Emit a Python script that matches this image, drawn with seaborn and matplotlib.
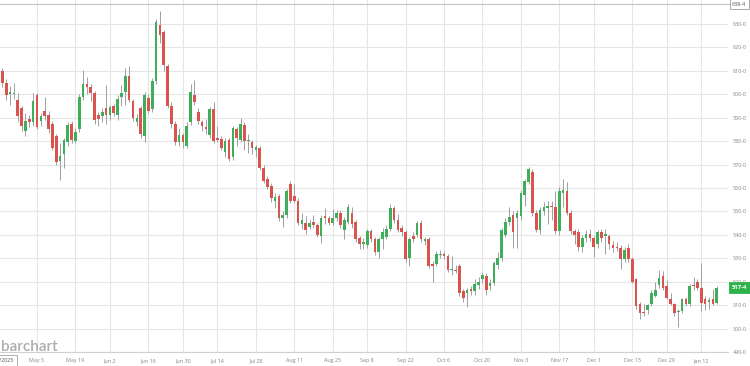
import numpy as np
import pandas as pd
import matplotlib
matplotlib.use("Agg")
import matplotlib.pyplot as plt
import seaborn as sns

# ---------------- data ----------------
holidays = ["2025-05-26", "2025-06-19", "2025-07-04", "2025-09-01",
            "2025-11-27", "2025-12-25", "2026-01-01"]
first_day = "2025-04-21"
last_day = "2026-01-16"

opens = [
    610, 605, 600, 600, 597.5, 594, 584.5, 589.5, 588, 599.5,
    588.5, 593, 591, 587.5, 582, 571.5, 574.5, 579.5, 587.5, 580,
    585, 599, 604.5, 603, 600.5, 591, 590.5, 594, 591, 595,
    591, 599, 601, 608, 597, 588, 594, 582, 598.5, 593.5,
    605.5, 629.5, 626.5, 612, 595, 587.5, 579.5, 582.5, 578, 588,
    599.5, 592.5, 588, 586, 582.5, 593.5, 581.5, 581, 575.5, 580.5,
    573, 585, 580.5, 587, 580, 579.5, 576, 577, 568.5, 564,
    561, 554.5, 556.5, 547, 548.5, 561.5, 556.5, 554.5, 544.5, 545,
    543.5, 545.5, 544, 539.5, 548, 547, 545, 547, 549.5, 542,
    545.5, 549.5, 545.5, 538.5, 536, 535.5, 541.5, 538, 532.5, 538,
    539, 542.5, 551.5, 546.5, 543, 541, 530, 539.5, 540, 545,
    537.5, 538, 527.5, 527.5, 531.5, 532, 531, 525, 525, 526.5,
    516, 515, 517, 516, 518.5, 521, 522.5, 518, 519.5, 527,
    530, 540, 545.5, 548.5, 547, 548, 557, 562.5, 567, 549.5,
    542, 550, 551.5, 552.5, 552, 541.5, 558, 558.5, 549.5, 541.5,
    541, 535, 538.5, 540.5, 538.5, 536, 541, 539.5, 539.5, 535.5,
    535, 534.5, 529.5, 534.5, 529.5, 521, 510.5, 507, 508, 510.5,
    514, 518.5, 522.5, 518, 512.5, 510.5, 507, 507.5, 512.5, 510.5,
    518.5, 520, 517.5, 512.5, 511.5, 512.5, 511,
]
highs = [
    611, 606.5, 603.5, 605, 600.5, 595, 592, 591, 600.5, 600.5,
    592, 599, 593, 588.5, 583, 579, 581.5, 588, 588.5, 585.5,
    600, 610.5, 607.5, 604.5, 601.5, 592.5, 594, 604, 595.5, 596,
    599.5, 604, 611, 612, 598, 591.5, 595, 601, 600, 607,
    632, 635.5, 627.5, 613, 596.5, 588.5, 585.5, 583.5, 588, 604.5,
    606, 594, 589, 589.5, 594.5, 596.5, 586.5, 582, 581.5, 581.5,
    586.5, 586, 590, 588, 583, 580.5, 578.5, 578, 570, 565,
    562, 558, 557.5, 550, 559.5, 563, 561.5, 555.5, 549.5, 548,
    546.5, 548.5, 545, 548.5, 551.5, 548, 551, 550.5, 550.5, 547.5,
    553, 552, 546.5, 539.5, 538.5, 542.5, 542.5, 539, 539, 543,
    544, 553, 552.5, 549, 544, 542, 539, 541, 546, 546.5,
    539, 539, 529, 533, 533.5, 533, 532, 531, 527, 527.5,
    517, 517.5, 518, 521, 522, 524, 523.5, 521, 529, 532.5,
    543, 547, 552, 550, 550.5, 559, 564, 569, 568, 550.5,
    552, 554, 554.5, 554.5, 558.5, 560.5, 564, 562.5, 550.5, 542.5,
    542.5, 540, 542, 542.5, 539.5, 542, 542.5, 542.5, 540.5, 537.5,
    537, 535.5, 535, 536, 530.5, 521.5, 511.5, 510.5, 510.5, 516.5,
    520, 525, 524.5, 520.5, 515, 511, 508.5, 513, 513.5, 519,
    522, 521, 528, 514, 513.5, 517, 518,
]
lows = [
    603, 597.5, 595.5, 598, 588.5, 584.5, 582, 586, 586.5, 585,
    586.5, 589, 583.5, 576, 570, 563.5, 568.5, 578, 579, 579,
    584, 597.5, 600, 597, 587.5, 586.5, 588, 587.5, 589, 590.5,
    589, 595, 595.5, 596.5, 588.5, 586.5, 581.5, 579.5, 592, 592.5,
    604.5, 622, 610, 594, 585.5, 578.5, 578, 577, 577, 587,
    595.5, 587.5, 584.5, 583, 581.5, 579, 579.5, 576, 573, 571.5,
    572, 578, 579.5, 576, 575, 574.5, 573, 567.5, 562, 559.5,
    554, 551.5, 546, 543.5, 547, 553.5, 553.5, 544, 542.5, 540.5,
    542.5, 543, 539, 536.5, 544.5, 544, 544, 546, 543, 538,
    544.5, 543, 537, 534, 534, 534.5, 537, 531.5, 530, 534,
    538, 541.5, 545, 541, 539.5, 528.5, 526.5, 537, 539, 537,
    535.5, 526, 520, 526.5, 530, 529.5, 524, 523, 523.5, 514,
    511.5, 509, 514.5, 514.5, 517, 519.5, 514.5, 516.5, 518.5, 525.5,
    529, 539, 544, 534.5, 534.5, 546.5, 552.5, 561.5, 548, 541,
    540.5, 548.5, 544.5, 546.5, 540.5, 540, 552, 548.5, 540.5, 536,
    533, 532.5, 537, 537.5, 530.5, 534.5, 537, 532, 534, 532.5,
    533, 525.5, 528.5, 528.5, 519.5, 508.5, 504, 505.5, 506, 509.5,
    513.5, 517.5, 516.5, 512.5, 510, 505.5, 500.5, 506.5, 509.5, 509.5,
    516.5, 516.5, 507.5, 508, 508.5, 510, 510.5,
]
closes = [
    605, 599.5, 601, 600.5, 590.5, 586.5, 588.5, 588, 597, 586,
    590.5, 590.5, 585, 577, 571, 573.5, 580.5, 587, 580.5, 584,
    599, 604.5, 603, 600.5, 589, 589.5, 592.5, 591, 594.5, 592,
    598, 600.5, 608, 597.5, 590, 590, 583, 599.5, 593, 605.5,
    631, 625.5, 612.5, 595, 587.5, 579.5, 582.5, 579.5, 586.5, 601,
    596.5, 588.5, 586.5, 585, 593.5, 580, 580.5, 577, 580, 572.5,
    585.5, 581.5, 587.5, 580, 580.5, 577, 577.5, 568.5, 563, 560.5,
    555.5, 556, 547, 548.5, 558.5, 554.5, 554.5, 545, 546.5, 542,
    545, 544, 540, 547, 547, 545, 547, 549.5, 544, 546.5,
    552, 544.5, 538, 536, 537, 541.5, 538, 532.5, 538, 541,
    542.5, 551.5, 546.5, 542, 541, 529.5, 538, 538, 545, 538,
    538, 526.5, 526.5, 532, 532, 531, 525, 525.5, 524.5, 515,
    513, 516.5, 516, 519, 520, 523, 516.5, 519.5, 528, 530,
    542, 545.5, 547.5, 541, 549.5, 558, 563, 568, 549.5, 542,
    550.5, 552, 552.5, 552, 541.5, 558.5, 559, 549.5, 541.5, 540,
    535, 538.5, 540.5, 538.5, 535, 541, 538.5, 540.5, 536, 534.5,
    534.5, 529.5, 533.5, 529.5, 520, 509.5, 506.5, 506.5, 510, 515,
    516.5, 521.5, 517.5, 513, 510.5, 506.5, 507.5, 512.5, 510.5, 518,
    518, 517.5, 511, 510.5, 512, 510.5, 517.5,
]

tick_dates = ["2025-05-05", "2025-05-19", "2025-06-02", "2025-06-16",
              "2025-06-30", "2025-07-14", "2025-07-28", "2025-08-11",
              "2025-08-25", "2025-09-08", "2025-09-22", "2025-10-06",
              "2025-10-20", "2025-11-03", "2025-11-17", "2025-12-01",
              "2025-12-15", "2025-12-29", "2026-01-12"]
tick_labels = ["May 5", "May 19", "Jun 2", "Jun 16", "Jun 30", "Jul 14",
               "Jul 28", "Aug 11", "Aug 25", "Sep 8", "Sep 22", "Oct 6",
               "Oct 20", "Nov 3", "Nov 17", "Dec 1", "Dec 15", "Dec 29",
               "Jan 12"]
price_ticks = list(range(490, 640, 10))
period_high = 638.5
last_price = 517.5
start_label = "4/21/2025"

# ---------------- build frame ----------------
days = pd.bdate_range(first_day, last_day, freq="C", holidays=holidays)
dates = days[1:1 + len(closes)]
df = pd.DataFrame({"date": dates, "open": opens, "high": highs,
                   "low": lows, "close": closes})
df["idx"] = [days.get_loc(d) for d in df["date"]]
df["up"] = df["close"] >= df["open"]
df["body_lo"] = df[["open", "close"]].min(axis=1)
df["body_h"] = (df["close"] - df["open"]).abs().clip(lower=0.45)

def price_fmt(v):
    whole = int(np.floor(v))
    eighths = int(round((v - whole) * 8))
    return f"{whole}-{eighths}"

# ---------------- style ----------------
sns.set_theme(style="white")
plt.rcParams["font.family"] = ["Open Sans", "DejaVu Sans"]

W, H = 750, 366
fig = plt.figure(figsize=(W / 100, H / 100), dpi=100)
ax_bottom_px = 352.4
ax_right_px = 728
ax = fig.add_axes([0, (H - ax_bottom_px) / H, ax_right_px / W, ax_bottom_px / H])

green = "#3fae5a"
red = "#d9534f"
wick = "#a0a0a0"
grid_c = "#e6e6e6"

# wicks
ax.vlines(df["idx"], df["low"], df["high"], color=wick, linewidth=0.7, zorder=2)
# bodies
colors = np.where(df["up"], green, red)
ax.bar(df["idx"], df["body_h"], bottom=df["body_lo"], width=0.68,
       color=colors, linewidth=0, zorder=3)

px_per_day = 3.84
x0_px = -1.4
ax.set_xlim(-x0_px / px_per_day, (ax_right_px - x0_px) / px_per_day)
ax.set_ylim(490 - 0.2, 630 + 24 / 2.346)

# grid
tick_pos = [days.get_loc(pd.Timestamp(d)) for d in tick_dates]
ax.set_xticks(tick_pos)
ax.set_xticklabels(tick_labels)
ax.set_yticks(price_ticks)
ax.set_yticklabels([price_fmt(v) for v in price_ticks])
ax.yaxis.tick_right()
ax.grid(True, color=grid_c, linewidth=0.8, zorder=0)
ax.set_axisbelow(True)
ax.tick_params(axis="both", length=0, labelsize=3.9, labelcolor="#858585")
ax.tick_params(axis="x", pad=4.2)
ax.tick_params(axis="y", pad=3.2)
for s in ["top", "left", "right"]:
    ax.spines[s].set_visible(False)
ax.spines["bottom"].set_color("#d0d0d0")
ax.spines["bottom"].set_linewidth(0.8)

# period high line & label
ax.axhline(period_high, xmin=0, xmax=W / ax_right_px, color="#c4c4c4",
           linewidth=0.8, clip_on=False, zorder=1)
ax.text(1.0 + 4 / ax_right_px, period_high, price_fmt(period_high),
        transform=ax.get_yaxis_transform(), fontsize=3.9, color="#555555",
        va="center", ha="left",
        bbox=dict(boxstyle="square,pad=0.45", facecolor="white",
                  edgecolor="#9a9a9a", linewidth=0.6))

# last price label
ax.text(1.0 + 4 / ax_right_px, last_price, price_fmt(last_price),
        transform=ax.get_yaxis_transform(), fontsize=4.2, color="white",
        fontweight="bold", va="center", ha="left", zorder=5,
        bbox=dict(boxstyle="square,pad=0.55", facecolor="#2db34a",
                  edgecolor="#2db34a", linewidth=0.6))

# watermark
fig.text(0.5 / W, (H - 351) / H, "barchart", fontsize=11, color="#adadad",
         family=["Lato", "DejaVu Sans"], fontweight="semibold",
         ha="left", va="baseline")

# start date box (cut at the left edge, as in the reference)
fig.text(14 / W, (H - 360.5) / H, start_label, fontsize=3.9, color="#555555",
         ha="right", va="center",
         bbox=dict(boxstyle="square,pad=0.5", facecolor="white",
                   edgecolor="#a0a0a0", linewidth=0.6))

fig.savefig("out.png", dpi=100)
